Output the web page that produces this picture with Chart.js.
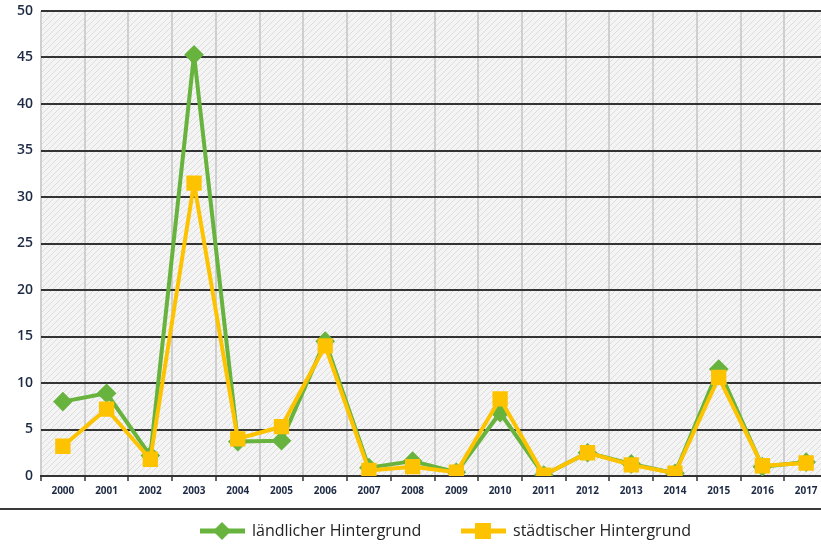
<!DOCTYPE html>
<html><head><meta charset="utf-8"><title>Hintergrund</title>
<script src="https://cdn.jsdelivr.net/npm/chart.js"></script>
<style>
html,body{margin:0;padding:0;background:#fff;overflow:hidden;}
#wrap{width:821px;height:545px;position:relative;overflow:hidden;}
</style></head>
<body>
<div id="wrap"><canvas id="chart" width="828" height="545"></canvas></div>
<script>
const years = ['2000','2001','2002','2003','2004','2005','2006','2007','2008','2009','2010','2011','2012','2013','2014','2015','2016','2017'];
const laendlich = [8.0, 8.9, 2.2, 45.3, 3.7, 3.8, 14.5, 0.9, 1.6, 0.4, 6.8, 0.1, 2.5, 1.3, 0.3, 11.5, 1.0, 1.5];
const staedtisch = [3.2, 7.2, 1.8, 31.5, 4.0, 5.3, 14.0, 0.6, 1.0, 0.4, 8.3, 0.1, 2.5, 1.2, 0.3, 10.6, 1.1, 1.4];
const yTicks = [0, 5, 10, 15, 20, 25, 30, 35, 40, 45, 50];

const green = '#67b33e';
const yellow = '#fdc300';

// hatched background of the plot area
function hatch() {
  const c = document.createElement('canvas');
  c.width = 6; c.height = 6;
  const g = c.getContext('2d');
  g.fillStyle = '#f4f4f4';
  g.fillRect(0, 0, 6, 6);
  g.strokeStyle = '#dcdcdc';
  g.lineWidth = 1;
  g.beginPath();
  g.moveTo(0, 6); g.lineTo(6, 0);
  g.moveTo(-3, 3); g.lineTo(3, -3);
  g.moveTo(3, 9); g.lineTo(9, 3);
  g.stroke();
  return c;
}

const bgPlugin = {
  id: 'bg',
  beforeDraw(chart) {
    const {ctx, chartArea: a} = chart;
    ctx.save();
    ctx.fillStyle = ctx.createPattern(hatch(), 'repeat');
    ctx.fillRect(a.left, a.top, a.right - a.left, a.bottom - a.top);
    ctx.restore();
  }
};

function marker(ctx, ds, x, y) {
  ctx.fillStyle = ds.borderColor;
  ctx.beginPath();
  if (ds.pointStyle === 'rectRot') {
    const r = 9;
    ctx.moveTo(x, y - r); ctx.lineTo(x + r, y); ctx.lineTo(x, y + r); ctx.lineTo(x - r, y);
  } else {
    const r = 8;
    ctx.rect(x - r, y - r, 2 * r, 2 * r);
  }
  ctx.closePath();
  ctx.fill();
}

const legendPlugin = {
  id: 'legendLine',
  afterDraw(chart) {
    const ctx = chart.ctx;
    ctx.save();
    ctx.strokeStyle = '#3a3a3a';
    ctx.lineWidth = 2;
    ctx.beginPath();
    ctx.moveTo(0, 509); ctx.lineTo(chart.width, 509);
    ctx.stroke();
    const starts = [200, 461];
    const y = 531;
    chart.data.datasets.forEach((ds, i) => {
      const x0 = starts[i];
      ctx.strokeStyle = ds.borderColor;
      ctx.lineWidth = 5;
      ctx.beginPath();
      ctx.moveTo(x0, y); ctx.lineTo(x0 + 45, y);
      ctx.stroke();
      marker(ctx, ds, x0 + 22, y);
      ctx.fillStyle = '#222';
      ctx.font = '16px "Open Sans", sans-serif';
      ctx.textBaseline = 'middle';
      ctx.textAlign = 'left';
      ctx.fillText(ds.label, x0 + 52, y);
    });
    ctx.restore();
  }
};

new Chart(document.getElementById('chart'), {
  type: 'line',
  data: {
    labels: years,
    datasets: [
      {label: 'ländlicher Hintergrund', data: laendlich, borderColor: green, backgroundColor: green, order: 1,
       borderWidth: 4, borderJoinStyle: 'round', pointStyle: 'rectRot', pointRadius: 7, pointHoverRadius: 7, tension: 0},
      {label: 'städtischer Hintergrund', data: staedtisch, borderColor: yellow, backgroundColor: yellow, order: 0,
       borderWidth: 4, borderJoinStyle: 'round', pointStyle: 'rect', pointRadius: 8, pointHoverRadius: 8, tension: 0}
    ]
  },
  options: {
    responsive: false,
    animation: false,
    layout: {autoPadding: false, padding: {top: 11, right: 0, bottom: 45, left: 0}},
    plugins: {legend: {display: false}, tooltip: {enabled: false}},
    scales: {
      x: {
        offset: true,
        grid: {offset: true, color: '#cfcfcf', lineWidth: 2, drawTicks: true, tickLength: 5, tickColor: '#333', tickWidth: 1.5},
        border: {color: '#333', width: 2},
        ticks: {color: '#1d2a44', font: {size: 10, weight: 'bold', family: '"Open Sans", sans-serif'}, padding: 4, maxRotation: 0, autoSkip: false},
        afterFit(s) { s.height = 24; s.paddingLeft = 0; s.paddingRight = 0; }
      },
      y: {
        min: 0, max: 50,
        afterBuildTicks(s) { s.ticks = yTicks.map(v => ({value: v})); },
        grid: {color: '#333', lineWidth: 2, drawTicks: false},
        border: {display: false},
        ticks: {color: '#1d2a44', font: {size: 14, weight: '600', family: '"Open Sans", sans-serif'}, padding: 8},
        afterFit(s) { s.width = 41; s.paddingTop = 0; s.paddingBottom = 0; }
      }
    }
  },
  plugins: [bgPlugin, legendPlugin]
});
</script>
</body></html>
